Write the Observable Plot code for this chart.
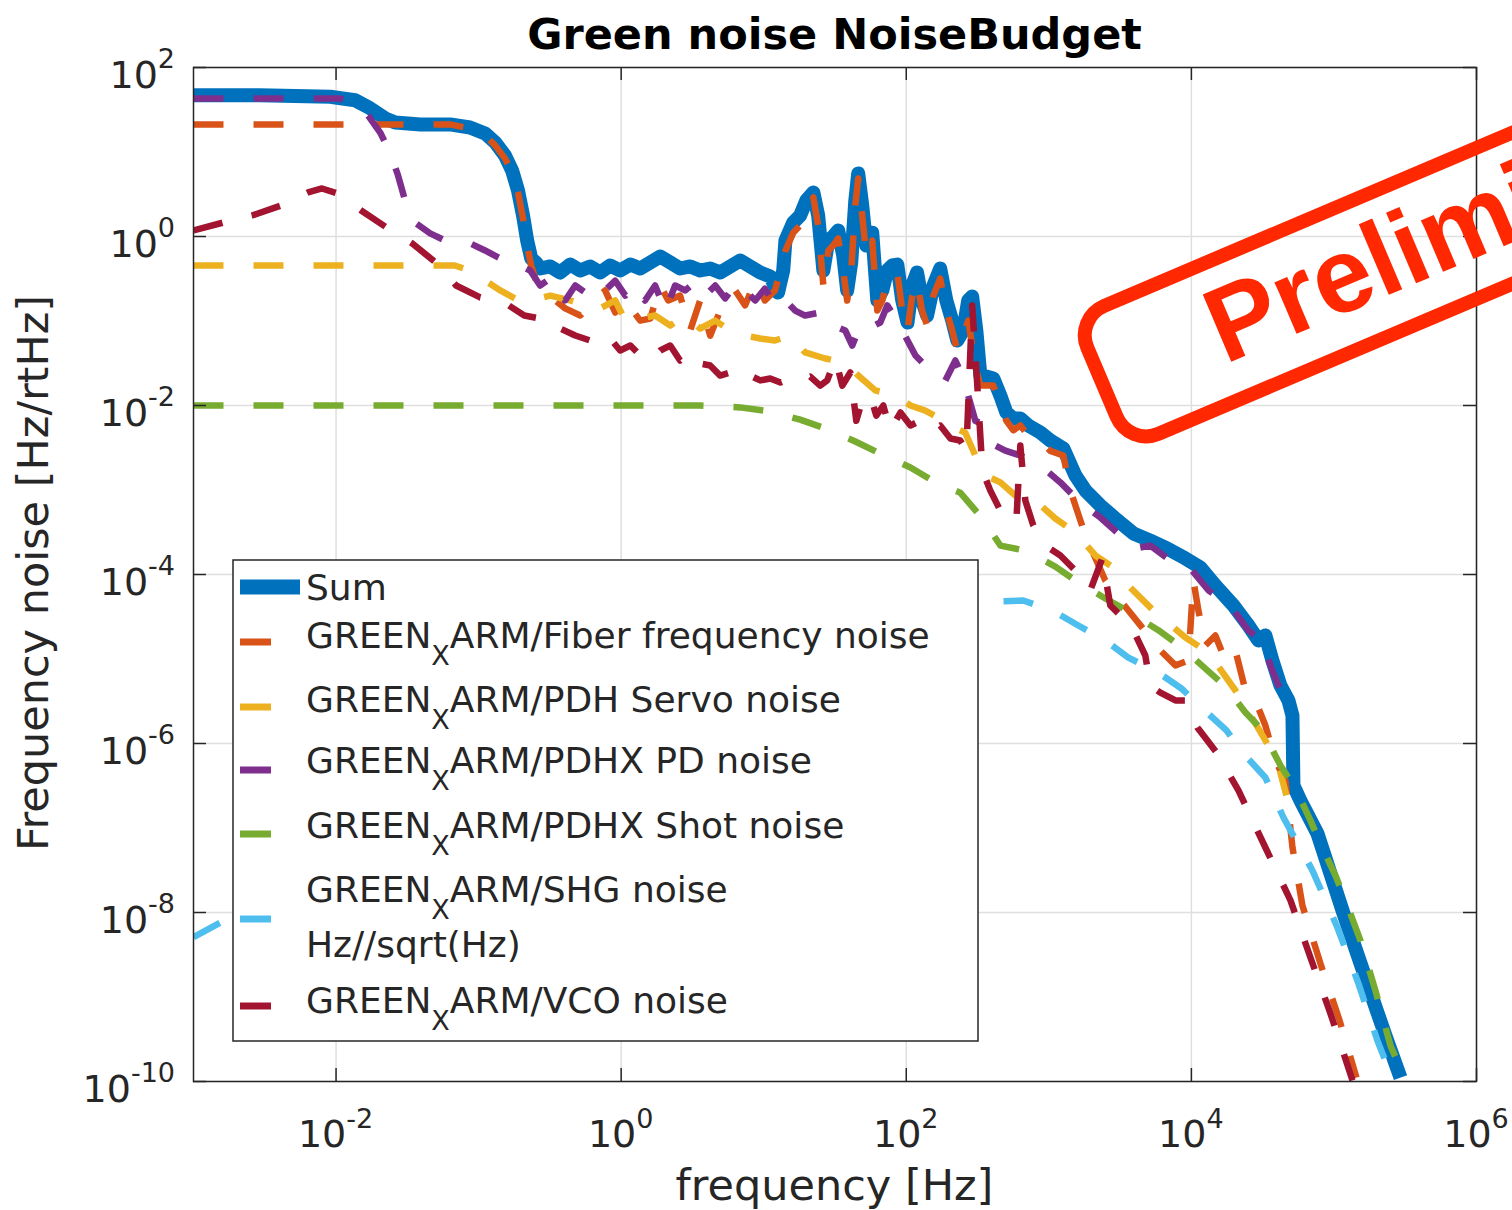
<!DOCTYPE html>
<html><head><meta charset="utf-8">
<script src="https://cdn.jsdelivr.net/npm/d3@7"></script>
<script src="https://cdn.jsdelivr.net/npm/@observablehq/plot@0.6"></script>
<style>
html,body{margin:0;padding:0;background:#fff;overflow:hidden;}
#chart{position:relative;width:1512px;height:1210px;}
</style></head><body><div id="chart"></div>
<script>
// ---- data (frequency [Hz], noise [Hz/rtHz]) ----
const sumNoise = [[1e-3,47],[2.9e-3,47],[9.1e-3,45],[0.0136,41],[0.0173,33],[0.0221,25],[0.026,22.3],[0.039,21.2],[0.063,21.2],[0.087,19.5],[0.111,16.6],[0.131,12.9],[0.153,9.1],[0.172,6.0],[0.189,3.5],[0.205,1.77],[0.219,0.9],[0.234,0.55],[0.253,0.49],
[0.270,0.418],[0.318,0.442],[0.373,0.375],[0.439,0.466],[0.516,0.396],[0.606,0.442],[0.712,0.375],[0.837,0.454],[0.984,0.396],[1.16,0.466],[1.36,0.418],[1.60,0.492],[1.88,0.58],[2.21,0.492],[2.59,0.418],[3.05,0.442],[3.58,0.396],[4.21,0.418],[4.95,0.375],[5.82,0.442],[6.84,0.52],[8.04,0.442],[9.45,0.375],[11.1,0.336],[12.6,0.217],[13.7,0.396],
[14.2,0.897],[16.1,1.46],[18.0,1.77],[19.9,2.67],[22.3,3.32],[24.1,1.77],[26.2,0.396],[28.4,0.897],[30.7,1.0],[33.3,1.18],[36.1,0.596],[38.5,0.23],[41.1,0.492],[43.9,2.67],[46.0,5.57],[49.1,2.33],[52.4,0.782],[57.7,1.11],[62.6,0.175],[67.9,0.23],[73.6,0.396],[79.8,0.454],[86.5,0.466],[93.7,0.175],[102,0.096],[110,0.263],[119,0.375],[129,0.175],[140,0.116],[155,0.263],[173,0.418],[191,0.175],[210,0.101],[228,0.0588],[251,0.0772],[272,0.175],[290,0.195],[310,0.0772],[331,0.0226],[364,0.022],[408,0.0209],[457,0.0131],[504,8.26e-3],[564,7.02e-3],[631,7.02e-3],[718,5.8e-3],[872,4.79e-3],[1025,3.85e-3],[1264,3.1e-3],[1535,1.49e-3],[1804,9.87e-4],[2297,6.56e-4],[2929,4.6e-4],[3919,3.06e-4],[5156,2.52e-4],[6787,2.03e-4],[9078,1.55e-4],[11560,1.21e-4],[14730,7.41e-5],[19720,4.3e-5],[25120,2.49e-5],[29510,1.66e-5],[33040,1.9e-5],[37000,9.6e-6],[42150,4.85e-6],[47970,3.23e-6],[51170,2.14e-6],[51990,3.18e-7],[58210,2.11e-7],[76600,8.6e-8],[116700,9.73e-9],[171800,1.44e-9],[229700,3.5e-10],[293000,1.11e-10]];

const fiberNoise = [[1e-3,21.2],[0.063,21.2],[0.087,19.0],[0.111,15.7],[0.131,11.9],[0.153,8.4],[0.172,5.7],[0.189,3.3],[0.205,1.63],[0.219,0.78],[0.234,0.45],[0.253,0.30],
[0.293,0.23],[0.344,0.175],[0.405,0.141],[0.516,0.116],[0.657,0.175],[0.772,0.23],[0.908,0.126],[1.07,0.175],[1.36,0.101],[1.60,0.107],[1.88,0.263],[2.14,0.175],[2.59,0.2],[3.05,0.0772],[3.58,0.175],[4.21,0.067],[4.95,0.133],[6.31,0.23],[7.41,0.153],[8.72,0.30],[10.2,0.175],[12.0,0.23],
[14.2,0.68],[16.1,1.11],[18.0,1.35],[19.9,2.03],[22.3,2.9],[24.1,1.35],[26.2,0.263],[28.4,0.68],[30.7,0.78],[33.3,0.95],[36.1,0.396],[38.5,0.175],[41.1,0.396],[43.9,2.33],[46.0,4.86],[49.1,1.77],[52.4,0.596],[57.7,0.897],[62.6,0.133],[67.9,0.175],[73.6,0.30],[79.8,0.345],[86.5,0.375],[93.7,0.133],[102,0.0772],[110,0.2],[119,0.30],[129,0.133],[140,0.0885],[155,0.2],[173,0.318],[191,0.133],[210,0.0772],[228,0.0448],[251,0.0674],[272,0.101],[290,0.0513],[310,0.026],[331,0.0172],[364,0.0172],[408,0.0172],[457,0.01],[504,6.6e-3],[564,5.1e-3],[631,5.8e-3],[718,4.4e-3],[872,3.85e-3],[1025,2.9e-3],[1264,2.56e-3],
[1416,9.9e-4],[1804,2.9e-4],[2490,8.5e-5],[3180,4.9e-5],[4390,2.5e-5],[6060,1.26e-5],[7730,8.4e-6],[9530,9.6e-6],[10330,8.5e-5],[11200,3.75e-5],[12540,1.45e-5],[14730,1.9e-5],[17330,9.6e-6],[20370,1.26e-5],[23940,4.24e-6],[28130,3.23e-6],[33040,1.63e-6],[38840,6.3e-7],[45650,3.65e-7],[51170,5.88e-8],[60110,1.21e-8],[80390,2.49e-9],[109400,5.3e-10],[143900,1.11e-10]];

const servoNoise = [[1e-3,0.454],[0.068,0.454],[0.087,0.396],[0.111,0.30],[0.142,0.23],[0.180,0.185],[0.230,0.175],[0.318,0.2],[0.439,0.175],[0.559,0.153],[0.712,0.141],[0.908,0.175],[1.07,0.101],[1.36,0.107],[1.73,0.116],[2.21,0.0885],[2.81,0.116],[3.58,0.0815],[4.57,0.101],[5.82,0.0772],[7.41,0.0674],[9.45,0.062],[12.0,0.0588],[15.4,0.0674],[19.5,0.0424],[27.0,0.036],[37.3,0.0323],[46.0,0.0226],[60.6,0.0151],[83.7,0.0131],[107,0.01],[136,8.7e-3],[173,7.0e-3],[221,5.35e-3],[259,4.79e-3],[305,2.56e-3],[358,1.49e-3],[457,1.23e-3],[582,8.6e-4],[804,7.5e-4],[1111,4.6e-4],[1535,3.14e-4],[2120,1.68e-4],[2700,1.28e-4],[3610,7.4e-5],[5590,3.55e-5],[9080,1.8e-5],[13160,1.19e-5],[20370,4.24e-6],[26800,1.98e-6],[33040,1.09e-6],[40800,5.5e-7],[46400,2.43e-7]];

const pdNoise = [[1e-3,43],[0.0107,43],[0.0136,37.5],[0.0168,27],[0.0204,17],[0.0239,9.9],[0.0272,5.3],[0.0305,2.67],[0.0358,1.46],[0.0457,1.09],[0.058,0.897],[0.087,0.83],[0.111,0.683],[0.142,0.55],[0.180,0.49],[0.230,0.396],
[0.270,0.263],[0.318,0.318],[0.373,0.23],[0.405,0.175],[0.476,0.263],[0.559,0.217],[0.657,0.278],[0.772,0.23],[0.908,0.30],[1.07,0.2],[1.25,0.263],[1.47,0.175],[1.73,0.263],[2.04,0.133],[2.39,0.263],[2.81,0.23],[3.30,0.286],[3.89,0.2],[4.57,0.263],[5.37,0.185],[6.31,0.27],[7.41,0.23],[8.72,0.175],[10.2,0.242],[12.0,0.153],[14.2,0.175],[16.6,0.133],[19.5,0.116],[24.9,0.126],[30.7,0.0885],[37.3,0.0772],[41.8,0.0513],[47.5,0.0885],[55.9,0.0838],[65.7,0.096],[73.6,0.153],[86.5,0.101],[102,0.0588],[116,0.039],[136,0.0297],[160,0.0246],[188,0.0198],[221,0.0341],[247,0.0226],[272,0.0131],[305,6.6e-3],[358,5.8e-3],[422,3.36e-3],[495,2.93e-3],[631,2.56e-3],[872,1.95e-3],[1205,1.23e-3],[1663,7.1e-4],[2297,4.73e-4],[3180,2.9e-4],[4050,2.03e-4],[5156,2.2e-4],[7120,1.46e-4],[9840,1.18e-4],[13160,6.5e-5],[18790,4.3e-5],[25120,2.17e-5],[31480,1.66e-5],[35820,8.4e-6],[42150,4.24e-6],[49550,2.33e-6]];

const shotNoise = [[1e-3,0.01],[3.58,0.01],[6.84,9.5e-3],[11.1,8.5e-3],[18.0,6.8e-3],[27.0,5.35e-3],[43.9,3.75e-3],[65.7,2.7e-3],[107,1.85e-3],[160,1.23e-3],[239,9.3e-4],[342,4.6e-4],[457,2.2e-4],[684,1.92e-4],[1111,1.24e-4],[1535,8.5e-5],[2490,5.2e-5],[3730,3.55e-5],[6060,2.11e-5],[8380,1.41e-5],[12540,7.7e-6],[17330,4.73e-6],[23940,2.33e-6],[31480,1.43e-6],[42150,5.5e-7],[53700,2.93e-7],[68400,1.23e-7],[80390,6.56e-8],[102500,2.74e-8],[120500,1.39e-8],[153500,4.66e-9],[195500,1.19e-9],[249000,2.67e-10],[317500,1.03e-10]];

const shgNoise = [[1e-3,5.1e-9],[1.54e-3,7.6e-9],[5.6e-3,3.1e-8],[0.028,2.1e-7],[0.142,1.43e-6],[0.712,7.31e-6],[3.58,2.17e-5],[18.0,3.75e-5],[91,4.66e-5],[415,4.8e-5],[662,4.92e-5],[1059,3.75e-5],[1610,2.49e-5],[2490,1.66e-5],[3610,1.04e-5],[5870,6.9e-6],[8510,4.48e-6],[11950,2.6e-6],[17620,1.43e-6],[23180,7.6e-7],[33040,3.96e-7],[44240,1.33e-7],[70650,3.14e-8],[105900,6.6e-9],[148600,1.44e-9],[201800,3.05e-10],[261600,1.0e-10]];

const vcoNoise = [[1e-3,1.18],[1.61e-3,1.46],[2.57e-3,1.77],[4.11e-3,2.33],[6.36e-3,3.32],[7.97e-3,3.7],[0.0102,3.23],[0.015,2.03],[0.0232,1.24],[0.0341,0.83],[0.0503,0.49],[0.0695,0.263],[0.1025,0.19],[0.151,0.166],[0.209,0.116],
[0.270,0.107],[0.318,0.107],[0.373,0.0815],[0.476,0.0674],[0.606,0.0588],[0.712,0.0513],[0.837,0.062],[0.984,0.0448],[1.16,0.0513],[1.36,0.039],[1.60,0.0341],[1.88,0.0448],[2.21,0.0513],[2.59,0.0341],[3.05,0.0424],[3.58,0.0314],[4.21,0.0297],[4.95,0.0226],[5.82,0.0246],[6.84,0.0198],[8.04,0.0226],[9.45,0.0198],[11.1,0.0209],[13.1,0.0187],[15.4,0.0209],[18.0,0.0198],[21.2,0.022],[24.9,0.0172],[27.9,0.0198],[31.8,0.036],[35.6,0.0172],[40.5,0.0246],[44.6,6.6e-3],[49.1,0.0115],[55.9,0.0131],[61.6,7.6e-3],[69.0,0.01],[77.2,5.06e-3],[91,8.26e-3],[107,5.8e-3],[125,6.6e-3],[147,5.06e-3],[173,5.8e-3],[204,4.07e-3],[239,3.85e-3],[264,2.93e-3],[290,0.153],[315,0.0172],[342,1.7e-3],[388,9.9e-4],[457,5.7e-4],[537,4.36e-4],[592,4.36e-4],[631,3.36e-3],[684,7.5e-4],[778,3.8e-4],[944,2.2e-4],[1205,1.68e-4],[1535,1.11e-4],[1954,6.5e-5],[2370,1.55e-4],[2700,4.3e-5],[3180,3.27e-5],[3919,2.17e-5],[4750,1.1e-5],[5156,4.85e-6],[6060,4.0e-6],[7730,3.23e-6],[9080,3.23e-6],[11020,1.55e-6],[15210,7.6e-7],[21380,2.78e-7],[33040,5.88e-8],[49550,1.39e-8],[68400,2.93e-9],[94450,6.4e-10],[134900,1.03e-10]];

const seriesData = [sumNoise, fiberNoise, servoNoise, pdNoise, shotNoise, shgNoise, vcoNoise];
const seriesColors = ["#0072BD", "#D95319", "#EDB120", "#7E2F8E", "#77AC30", "#4DBEEE", "#A2142F"];
const legendLabels = [
  ["Sum"],
  ["GREEN", "X", "ARM/Fiber frequency noise"],
  ["GREEN", "X", "ARM/PDH Servo noise"],
  ["GREEN", "X", "ARM/PDHX PD noise"],
  ["GREEN", "X", "ARM/PDHX Shot noise"],
  ["GREEN", "X", "ARM/SHG noise", "Hz//sqrt(Hz)"],
  ["GREEN", "X", "ARM/VCO noise"]
];
const xTicks = [1e-2, 1e0, 1e2, 1e4, 1e6];
const yTicks = [1e2, 1e0, 1e-2, 1e-4, 1e-6, 1e-8, 1e-10];
const titleText = "Green noise NoiseBudget";
const xLabel = "frequency [Hz]";
const yLabel = "Frequency noise [Hz/rtHz]";
const stampText = "Preliminary";

// ---- styles ----
const axisColor = "#262626";
const gridColor = "#dfdfdf";
const FONT = "DejaVu Sans";
const W = 1512, H = 1210, ML = 193, MR = 36, MT = 67, MB = 129;
const frameW = W - ML - MR, frameH = H - MT - MB, tickLen = 13;

const lineMarks = seriesData.map((data, i) => Plot.line(data, {
  x: d => d[0], y: d => d[1],
  stroke: seriesColors[i],
  strokeWidth: i === 0 ? 14 : 6.5,
  strokeDasharray: i === 0 ? undefined : "30,30",
  strokeLinejoin: "round", strokeLinecap: "butt",
  clip: true
}));

const plot = Plot.plot({
  width: W, height: H,
  marginLeft: ML, marginRight: MR, marginTop: MT, marginBottom: MB,
  style: {background: "white", fontFamily: FONT},
  x: {type: "log", domain: [1e-3, 1e6], axis: null},
  y: {type: "log", domain: [1e-10, 1e2], axis: null},
  marks: [
    Plot.ruleX(xTicks, {stroke: gridColor, strokeWidth: 1.5}),
    Plot.ruleY(yTicks, {stroke: gridColor, strokeWidth: 1.5}),
    ...lineMarks,
    Plot.ruleX(xTicks, {stroke: axisColor, strokeWidth: 1.5, insetTop: frameH - tickLen}),
    Plot.ruleX(xTicks, {stroke: axisColor, strokeWidth: 1.5, insetBottom: frameH - tickLen}),
    Plot.ruleY(yTicks, {stroke: axisColor, strokeWidth: 1.5, insetRight: frameW - tickLen}),
    Plot.ruleY(yTicks, {stroke: axisColor, strokeWidth: 1.5, insetLeft: frameW - tickLen}),
    Plot.frame({stroke: axisColor, strokeWidth: 1.5})
  ]
});
document.getElementById("chart").append(plot);

const svg = d3.select(plot);
const xs = plot.scale("x"), ys = plot.scale("y");
const expo = v => { const e = Math.round(Math.log10(v)); return e < 0 ? "-" + (-e) : String(e); };

// tick labels
const tl = svg.append("g").attr("font-family", FONT).attr("fill", axisColor);
xTicks.forEach(t => {
  const tx = tl.append("text").attr("x", xs.apply(t)).attr("y", MT + frameH + 66)
    .attr("text-anchor", "middle").attr("font-size", 38).text("10");
  tx.append("tspan").attr("dy", -19).attr("font-size", 27).text(expo(t));
});
yTicks.forEach(t => {
  const ty = tl.append("text").attr("x", ML - 18).attr("y", ys.apply(t) + 21)
    .attr("text-anchor", "end").attr("font-size", 38).text("10");
  ty.append("tspan").attr("dy", -20).attr("font-size", 27).text(expo(t));
});

// axis labels and title
svg.append("text").attr("x", ML + frameW / 2).attr("y", 1200).attr("text-anchor", "middle")
  .attr("font-family", FONT).attr("font-size", 43).attr("fill", axisColor).text(xLabel);
svg.append("text").attr("transform", `translate(48,${MT + frameH / 2 - 1}) rotate(-90)`).attr("text-anchor", "middle")
  .attr("font-family", FONT).attr("font-size", 43).attr("fill", axisColor).text(yLabel);
svg.append("text").attr("x", ML + frameW / 2).attr("y", 49).attr("text-anchor", "middle")
  .attr("font-family", FONT).attr("font-size", 43).attr("font-weight", "bold").attr("fill", "#000").text(titleText);

// legend
const lg = svg.append("g").attr("font-family", FONT).attr("font-size", 36).attr("fill", axisColor).attr("text-anchor", "start");
lg.append("rect").attr("x", 233).attr("y", 560).attr("width", 745).attr("height", 481)
  .attr("fill", "white").attr("stroke", axisColor).attr("stroke-width", 1.5);
const rowBase = [600, 648, 712, 773, 838, 902, 1013];
const swatchY = [587, 642, 707, 770, 834, 919, 1006];
legendLabels.forEach((parts, i) => {
  lg.append("line").attr("x1", 240).attr("x2", i === 0 ? 300 : 271)
    .attr("y1", swatchY[i]).attr("y2", swatchY[i])
    .attr("stroke", seriesColors[i]).attr("stroke-width", i === 0 ? 15 : 7);
  const t = lg.append("text").attr("x", 306).attr("y", rowBase[i]).attr("text-anchor", "start");
  if (parts.length === 1) { t.text(parts[0]); return; }
  t.append("tspan").text(parts[0]);
  t.append("tspan").attr("dy", 17).attr("font-size", 27).text(parts[1]);
  t.append("tspan").attr("dy", -17).text(parts[2]);
  if (parts[3]) lg.append("text").attr("x", 306).attr("y", rowBase[i] + 55).attr("text-anchor", "start").text(parts[3]);
});

// "Preliminary" stamp
const st = svg.append("g").attr("transform", "rotate(-23)");
st.append("rect").attr("x", 865).attr("y", 713).attr("width", 800).attr("height", 139).attr("rx", 32)
  .attr("fill", "none").attr("stroke", "#ff2800").attr("stroke-width", 14);
st.append("text").attr("x", 985).attr("y", 814).attr("text-anchor", "start").attr("font-family", "Liberation Sans")
  .attr("font-weight", "bold").attr("font-size", 106).attr("fill", "#ff2800").text(stampText);
</script>
</body></html>
